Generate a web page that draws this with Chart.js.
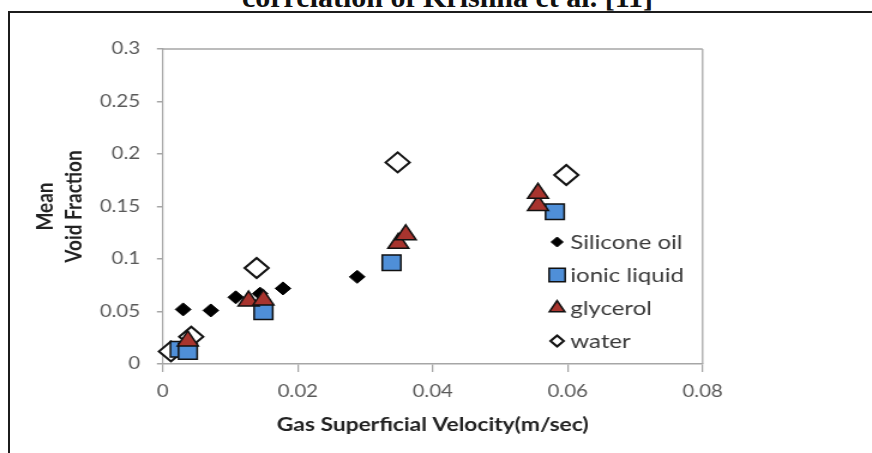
<!DOCTYPE html>
<html>
<head>
<meta charset="utf-8">
<title>Mean void fraction vs gas superficial velocity</title>
<script src="https://cdn.jsdelivr.net/npm/chart.js@4.4.1/dist/chart.umd.min.js"></script>
<style>
  html, body { margin: 0; padding: 0; background: #fff; }
  #page { position: relative; width: 872px; height: 453px; overflow: hidden; background: #fff; }
  #caption {
    position: absolute; left: 0; top: -18px; width: 895px;
    text-align: center; white-space: nowrap;
    font: bold 30px "Liberation Serif", "Times New Roman", serif;
    line-height: 30px; color: #111;
  }
  #frame {
    position: absolute; left: 8px; top: 11px; width: 900px; height: 500px;
    border-left: 2px solid #1c1c1c; border-top: 2px solid #1c1c1c;
  }
  /* the figure is drawn slightly narrow and widened to the page width */
  #chart { position: absolute; left: 0; top: 0; transform-origin: 0 0; transform: scaleX(1.1994); }
</style>
</head>
<body>
<div id="page">
  <div id="caption">correlation of Krishna et al. [11]</div>
  <div id="frame"></div>
  <canvas id="chart" width="727" height="453"></canvas>
</div>
<script>
// Series names (legend order)
const seriesNames = ['Silicone oil', 'ionic liquid', 'glycerol', 'water'];

// Gas superficial velocity (m/sec) and mean void fraction for each liquid
const siliconeVelocity = [0.003, 0.0071, 0.0108, 0.0144, 0.0178, 0.0288];
const siliconeVoid     = [0.052, 0.051, 0.0635, 0.067, 0.072, 0.083];

const ionicVelocity = [0.0025, 0.0037, 0.0149, 0.0339, 0.0581];
const ionicVoid     = [0.014, 0.012, 0.0498, 0.0965, 0.145];

const glycerolVelocity = [0.0037, 0.0127, 0.0149, 0.0349, 0.036, 0.0556, 0.0556];
const glycerolVoid     = [0.022, 0.060, 0.061, 0.115, 0.123, 0.151, 0.1626];

const waterVelocity = [0.0012, 0.0042, 0.0139, 0.0348, 0.0598];
const waterVoid     = [0.012, 0.026, 0.0914, 0.192, 0.180];

// Axis tick labels
const xTickLabels = ['0', '0.02', '0.04', '0.06', '0.08'];
const yTickLabels = ['0', '0.05', '0.1', '0.15', '0.2', '0.25', '0.3'];

// Canvas layout (canvas pixels)
const CANVAS_W = 727, CANVAS_H = 453;
const PLOT = { left: 135.8, right: 585.8, top: 49, bottom: 364 };
const AXIS_GREY = '#a6a6a6';

function toPoints(xs, ys) {
  return xs.map((x, i) => ({ x: x, y: ys[i] }));
}

// Plot box: top and right edges (left and bottom are the axis lines)
const plotFrame = {
  id: 'plotFrame',
  beforeDatasetsDraw(chart) {
    const { ctx, chartArea: a } = chart;
    ctx.save();
    ctx.strokeStyle = AXIS_GREY;
    ctx.lineWidth = 1.5;
    ctx.beginPath();
    ctx.moveTo(a.left, a.top);
    ctx.lineTo(a.right, a.top);
    ctx.stroke();
    ctx.lineWidth = 1.25;
    ctx.beginPath();
    ctx.moveTo(a.right, a.top);
    ctx.lineTo(a.right, a.bottom);
    ctx.stroke();
    ctx.restore();
  }
};

// Legend drawn inside the plot, to the right of the data
const legendBox = { markerX: 464.5, textX: 475.5, firstY: 242, rowGap: 33 };
const legendMarkerRadius = [5, 9.5, 7.5, 5.5];
const insideLegend = {
  id: 'insideLegend',
  afterDatasetsDraw(chart) {
    const ctx = chart.ctx;
    ctx.save();
    chart.data.datasets.forEach((ds, i) => {
      const y = legendBox.firstY + i * legendBox.rowGap;
      ctx.fillStyle = ds.pointBackgroundColor;
      ctx.strokeStyle = ds.pointBorderColor;
      ctx.lineWidth = ds.pointBorderWidth;
      Chart.helpers.drawPoint(ctx, {
        pointStyle: ds.pointStyle,
        radius: legendMarkerRadius[i],
        rotation: 0,
        borderWidth: ds.pointBorderWidth
      }, legendBox.markerX, y);
      ctx.fillStyle = '#3a3a3a';
      ctx.font = '20px Lato, "Open Sans", sans-serif';
      ctx.textAlign = 'left';
      ctx.textBaseline = 'middle';
      ctx.fillText(ds.label, legendBox.textX, y + 1);
    });
    ctx.restore();
  }
};

const datasets = [
  {
    label: seriesNames[0],
    data: toPoints(siliconeVelocity, siliconeVoid),
    pointStyle: 'rectRot', pointRadius: 6.5,
    pointBackgroundColor: '#000', pointBorderColor: '#000', pointBorderWidth: 1,
    order: 3
  },
  {
    label: seriesNames[1],
    data: toPoints(ionicVelocity, ionicVoid),
    pointStyle: 'rect', pointRadius: 11,
    pointBackgroundColor: '#4f8fd8', pointBorderColor: '#111', pointBorderWidth: 1.5,
    order: 2
  },
  {
    label: seriesNames[2],
    data: toPoints(glycerolVelocity, glycerolVoid),
    pointStyle: 'triangle', pointRadius: 10,
    pointBackgroundColor: '#a8342e', pointBorderColor: '#111', pointBorderWidth: 1.5,
    order: 1
  },
  {
    label: seriesNames[3],
    data: toPoints(waterVelocity, waterVoid),
    pointStyle: 'rectRot', pointRadius: 10,
    pointBackgroundColor: '#fff', pointBorderColor: '#111', pointBorderWidth: 2,
    order: 4
  }
];
datasets.forEach(ds => { ds.showLine = false; ds.clip = false; ds.pointHoverRadius = ds.pointRadius; });

new Chart(document.getElementById('chart'), {
  type: 'scatter',
  data: { datasets: datasets },
  options: {
    responsive: false,
    animation: false,
    events: [],
    layout: { padding: { left: 0, top: PLOT.top, right: CANVAS_W - PLOT.right, bottom: 0 } },
    plugins: { legend: { display: false }, tooltip: { enabled: false } },
    scales: {
      x: {
        type: 'linear', min: 0, max: 0.08,
        afterFit(s) { s.height = CANVAS_H - PLOT.bottom; },
        ticks: {
          stepSize: 0.02, padding: 9, color: '#595959',
          font: { family: 'Lato', size: 17 },
          callback: (v, i) => xTickLabels[i]
        },
        grid: { drawOnChartArea: false, drawTicks: true, tickLength: 8, color: AXIS_GREY, lineWidth: 1.25 },
        border: { display: true, color: AXIS_GREY, width: 1.5 },
        title: {
          display: true, text: 'Gas Superficial Velocity(m/sec)', color: '#222',
          font: { family: 'Lato', size: 19, weight: 'bold', lineHeight: 1.2 },
          padding: { top: 0, bottom: 16.6 }
        }
      },
      y: {
        type: 'linear', min: 0, max: 0.3,
        afterFit(s) { s.width = PLOT.left; },
        ticks: {
          stepSize: 0.05, padding: 14, color: '#595959',
          font: { family: 'Lato', size: 17 },
          callback: (v, i) => yTickLabels[i]
        },
        grid: { drawOnChartArea: false, drawTicks: true, tickLength: 5, color: AXIS_GREY, lineWidth: 1.5 },
        border: { display: true, color: AXIS_GREY, width: 1.25 },
        title: {
          display: true, text: ['Mean', 'Void Fraction'], color: '#222',
          font: { family: 'Lato', size: 19, weight: 'bold', lineHeight: 1.26 },
          padding: { top: 25.5, bottom: 0 }
        }
      }
    }
  },
  plugins: [plotFrame, insideLegend]
});
</script>
</body>
</html>
